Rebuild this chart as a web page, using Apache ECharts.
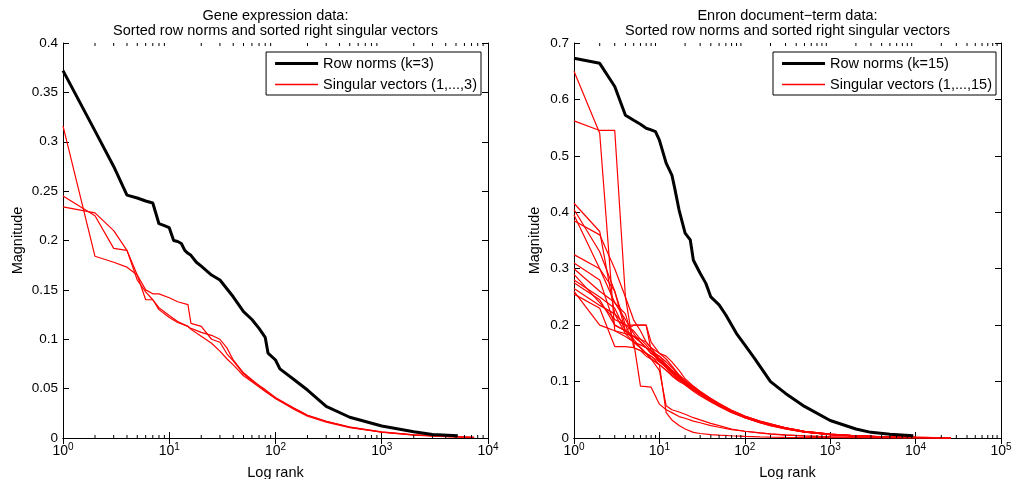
<!DOCTYPE html>
<html>
<head>
<meta charset="utf-8">
<title>Sorted row norms and sorted right singular vectors</title>
<script src="https://cdn.jsdelivr.net/npm/echarts@6.0.0/dist/echarts.min.js"></script>
<style>
    html, body { margin: 0; padding: 0; background: #fff; }
    #main { width: 1012px; height: 479px; }
</style>
</head>
<body>
<div id="main"></div>
<script>
var FONT = '"Liberation Sans", Arial, Helvetica, sans-serif';

// 左图: Gene expression
var geneTitle = 'Gene expression data:\nSorted row norms and sorted right singular vectors';
var geneNormName = 'Row norms (k=3)';
var geneSvName = 'Singular vectors (1,...,3)';
var geneNormRanks = [1, 2, 3, 4, 5, 6, 7, 8, 9, 10, 11, 12, 13, 14, 15, 16, 18, 20, 25, 30, 40, 50, 60, 70, 80, 85, 100, 110, 150, 200, 300, 500, 1000, 2000, 3000, 5200];
var geneNorms = [0.372, 0.311, 0.275, 0.246, 0.243, 0.240, 0.238, 0.217, 0.215, 0.213, 0.200, 0.199, 0.197, 0.190, 0.187, 0.185, 0.178, 0.174, 0.165, 0.160, 0.143, 0.128, 0.120, 0.111, 0.102, 0.086, 0.079, 0.070, 0.059, 0.0486, 0.032, 0.021, 0.0122, 0.0064, 0.0036, 0.0022];
var geneSvRanks = [1, 2, 3, 4, 5, 6, 7, 8, 10, 12, 15, 16, 20, 25, 30, 35, 40, 50, 60, 80, 100, 150, 200, 300, 500, 1000, 2000, 4000, 7400];
var geneSv1 = [0.316, 0.184, 0.178, 0.173, 0.165, 0.140, 0.140, 0.132, 0.124, 0.118, 0.113, 0.110, 0.103, 0.096, 0.088, 0.080, 0.074, 0.063, 0.057, 0.047, 0.040, 0.029, 0.022, 0.016, 0.0105, 0.0058, 0.0030, 0.0014, 0.0005];
var geneSv2 = [0.245, 0.225, 0.192, 0.190, 0.165, 0.150, 0.146, 0.146, 0.142, 0.138, 0.135, 0.116, 0.113, 0.100, 0.097, 0.085, 0.078, 0.065, 0.058, 0.049, 0.041, 0.030, 0.023, 0.017, 0.011, 0.0060, 0.0032, 0.0015, 0.0006];
var geneSv3 = [0.234, 0.228, 0.210, 0.190, 0.160, 0.148, 0.140, 0.130, 0.122, 0.117, 0.113, 0.111, 0.107, 0.104, 0.100, 0.091, 0.079, 0.066, 0.059, 0.048, 0.040, 0.030, 0.023, 0.017, 0.011, 0.0062, 0.0033, 0.0016, 0.0006];
var geneYTicks = [0, 0.4, 0.05];
var geneXRange = [1, 10000];

// 右图: Enron
var enronTitle = 'Enron document\u2212term data:\nSorted row norms and sorted right singular vectors';
var enronNormName = 'Row norms (k=15)';
var enronSvName = 'Singular vectors (1,...,15)';
var enronNormRanks = [1, 2, 3, 4, 5, 6, 7, 8, 9, 10, 12, 14, 15, 17, 20, 23, 25, 30, 35, 40, 50, 60, 80, 100, 130, 200, 300, 500, 1000, 2000, 3000, 5000, 9400];
var enronNorms = [0.673, 0.664, 0.623, 0.572, 0.563, 0.556, 0.549, 0.546, 0.543, 0.528, 0.487, 0.466, 0.445, 0.404, 0.363, 0.351, 0.315, 0.292, 0.274, 0.250, 0.236, 0.218, 0.185, 0.165, 0.141, 0.100, 0.079, 0.056, 0.031, 0.016, 0.010, 0.0065, 0.004];
var enronSvRanks = [1, 2, 3, 4, 5, 6, 7, 8, 10, 12, 14, 17, 20, 25, 30, 40, 50, 70, 100, 150, 200, 300, 500, 1000, 2000, 5000, 10000, 26000];
var enronSv = [
    [0.650, 0.540, 0.190, 0.180, 0.170, 0.160, 0.150, 0.145, 0.130, 0.120, 0.110, 0.100, 0.095, 0.085, 0.078, 0.066, 0.058, 0.047, 0.037, 0.028, 0.023, 0.017, 0.011, 0.0060, 0.0035, 0.0017, 0.0010, 0.0003],
    [0.562, 0.545, 0.545, 0.250, 0.209, 0.190, 0.170, 0.160, 0.140, 0.125, 0.117, 0.105, 0.097, 0.088, 0.080, 0.068, 0.060, 0.048, 0.038, 0.029, 0.024, 0.018, 0.012, 0.0070, 0.0040, 0.0018, 0.0010, 0.0003],
    [0.416, 0.366, 0.220, 0.200, 0.190, 0.175, 0.165, 0.155, 0.140, 0.130, 0.120, 0.108, 0.100, 0.090, 0.082, 0.070, 0.061, 0.049, 0.039, 0.030, 0.025, 0.018, 0.012, 0.0070, 0.0040, 0.0019, 0.0010, 0.0003],
    [0.405, 0.330, 0.260, 0.200, 0.200, 0.200, 0.200, 0.155, 0.135, 0.128, 0.118, 0.110, 0.100, 0.088, 0.079, 0.066, 0.058, 0.046, 0.036, 0.028, 0.023, 0.017, 0.011, 0.0060, 0.0035, 0.0016, 0.0009, 0.0003],
    [0.395, 0.300, 0.240, 0.210, 0.185, 0.170, 0.160, 0.150, 0.138, 0.125, 0.115, 0.104, 0.096, 0.085, 0.077, 0.065, 0.057, 0.046, 0.037, 0.028, 0.023, 0.017, 0.011, 0.0062, 0.0036, 0.0017, 0.0009, 0.0003],
    [0.385, 0.360, 0.300, 0.250, 0.160, 0.155, 0.145, 0.140, 0.130, 0.120, 0.112, 0.102, 0.094, 0.083, 0.075, 0.064, 0.056, 0.045, 0.036, 0.027, 0.022, 0.016, 0.0105, 0.0060, 0.0034, 0.0016, 0.0009, 0.0003],
    [0.325, 0.300, 0.260, 0.190, 0.180, 0.170, 0.160, 0.150, 0.145, 0.135, 0.125, 0.110, 0.100, 0.090, 0.080, 0.067, 0.059, 0.047, 0.037, 0.028, 0.023, 0.017, 0.011, 0.0063, 0.0036, 0.0017, 0.0010, 0.0003],
    [0.310, 0.280, 0.200, 0.190, 0.200, 0.200, 0.200, 0.170, 0.150, 0.140, 0.128, 0.112, 0.102, 0.090, 0.081, 0.068, 0.060, 0.048, 0.038, 0.029, 0.024, 0.018, 0.012, 0.0068, 0.0038, 0.0018, 0.0010, 0.0003],
    [0.300, 0.260, 0.240, 0.220, 0.170, 0.165, 0.160, 0.155, 0.145, 0.130, 0.120, 0.108, 0.098, 0.087, 0.079, 0.066, 0.058, 0.047, 0.037, 0.028, 0.023, 0.017, 0.011, 0.0062, 0.0035, 0.0016, 0.0009, 0.0003],
    [0.290, 0.240, 0.210, 0.200, 0.170, 0.092, 0.091, 0.090, 0.060, 0.050, 0.045, 0.038, 0.035, 0.030, 0.027, 0.022, 0.019, 0.015, 0.012, 0.009, 0.007, 0.005, 0.0035, 0.0020, 0.0012, 0.0006, 0.0003, 0.0001],
    [0.280, 0.250, 0.230, 0.190, 0.180, 0.175, 0.170, 0.160, 0.150, 0.145, 0.135, 0.120, 0.105, 0.092, 0.083, 0.070, 0.061, 0.049, 0.039, 0.030, 0.025, 0.018, 0.012, 0.0066, 0.0037, 0.0017, 0.0010, 0.0003],
    [0.275, 0.245, 0.200, 0.190, 0.175, 0.160, 0.150, 0.140, 0.120, 0.057, 0.050, 0.046, 0.042, 0.036, 0.032, 0.026, 0.022, 0.016, 0.012, 0.009, 0.0075, 0.0055, 0.0038, 0.0022, 0.0013, 0.0006, 0.0003, 0.0001],
    [0.265, 0.235, 0.220, 0.185, 0.170, 0.160, 0.150, 0.140, 0.130, 0.045, 0.032, 0.022, 0.016, 0.010, 0.008, 0.006, 0.005, 0.004, 0.003, 0.002, 0.0016, 0.0012, 0.0008, 0.0005, 0.0003, 0.0002, 0.0001, 0.00005],
    [0.260, 0.200, 0.190, 0.185, 0.180, 0.170, 0.160, 0.150, 0.140, 0.130, 0.120, 0.110, 0.100, 0.089, 0.080, 0.067, 0.058, 0.047, 0.037, 0.028, 0.023, 0.017, 0.011, 0.0063, 0.0036, 0.0017, 0.0009, 0.0003],
    [0.255, 0.230, 0.162, 0.162, 0.160, 0.155, 0.150, 0.145, 0.135, 0.125, 0.115, 0.105, 0.097, 0.087, 0.078, 0.066, 0.057, 0.046, 0.036, 0.027, 0.022, 0.016, 0.0105, 0.0060, 0.0034, 0.0016, 0.0009, 0.0003]
];
var enronYTicks = [0, 0.7, 0.1];
var enronXRange = [1, 100000];

// 对数轴上的次刻度 2..9 x 10^k
var minorMults = [2, 3, 4, 5, 6, 7, 8, 9];

var grids = [
    {left: 63, top: 43, width: 425, height: 395, outerBoundsMode: 'none'},
    {left: 574, top: 43, width: 427, height: 395, outerBoundsMode: 'none'}
];

// 图例里的线段图标
var thickIcon = 'path://M0,0 L43,0 L43,3 L0,3 Z';
var thinIcon = 'path://M0,0 L43,0 L43,1.3 L0,1.3 Z';

function pairs(xs, ys) {
    return xs.map(function (x, i) { return [x, ys[i]]; });
}

function minorTicks(range) {
    var out = [];
    for (var d = range[0]; d < range[1]; d *= 10) {
        minorMults.forEach(function (m) { out.push([d * m, 0]); });
    }
    return out;
}

function logAxis(gi, range, pos) {
    var bottom = pos === 'bottom';
    return {
        type: 'log',
        logBase: 10,
        gridIndex: gi,
        position: pos,
        min: range[0],
        max: range[1],
        name: bottom ? 'Log rank' : '',
        nameLocation: 'middle',
        nameGap: 27,
        nameTextStyle: {fontFamily: FONT, fontSize: 14.5, color: '#000'},
        axisLine: {show: true, lineStyle: {color: '#000', width: 1}},
        axisTick: {show: true, inside: true, length: 6, lineStyle: {color: '#000'}},
        splitLine: {show: false},
        axisLabel: {
            show: bottom,
            margin: 4,
            showMinLabel: true,
            showMaxLabel: true,
            formatter: function (v) {
                return '{b|10}{s|' + Math.round(Math.log(v) / Math.LN10) + '}';
            },
            rich: {
                b: {fontFamily: FONT, fontSize: 14, color: '#000', lineHeight: 16, verticalAlign: 'bottom'},
                s: {fontFamily: FONT, fontSize: 10, color: '#000', lineHeight: 10, verticalAlign: 'top'}
            }
        }
    };
}

function valAxis(gi, ticks, pos, gap) {
    var left = pos === 'left';
    return {
        type: 'value',
        gridIndex: gi,
        position: pos,
        min: ticks[0],
        max: ticks[1],
        interval: ticks[2],
        name: left ? 'Magnitude' : '',
        nameLocation: 'middle',
        nameGap: gap,
        nameTextStyle: {fontFamily: FONT, fontSize: 14.5, color: '#000'},
        axisLine: {show: true, lineStyle: {color: '#000', width: 1}},
        axisTick: {show: true, inside: true, length: 6, lineStyle: {color: '#000'}},
        splitLine: {show: false},
        axisLabel: {show: left, margin: 5, fontFamily: FONT, fontSize: 13.5, color: '#000'}
    };
}

function lineSeries(name, data, xi, yi, color, width, z) {
    return {
        type: 'line',
        name: name,
        xAxisIndex: xi,
        yAxisIndex: yi,
        data: data,
        symbol: 'none',
        clip: true,
        z: z,
        lineStyle: {color: color, width: width},
        itemStyle: {color: color}
    };
}

function minorSeries(range, xi, yi) {
    return {
        type: 'custom',
        xAxisIndex: xi,
        yAxisIndex: yi,
        silent: true,
        z: 5,
        data: minorTicks(range),
        renderItem: function (params, api) {
            var x = api.coord([api.value(0), 0])[0];
            var cs = params.coordSys;
            var yb = cs.y + cs.height;
            return {
                type: 'group',
                children: [
                    {type: 'line', shape: {x1: x, y1: yb, x2: x, y2: yb - 3}, style: {stroke: '#000', lineWidth: 1}},
                    {type: 'line', shape: {x1: x, y1: cs.y, x2: x, y2: cs.y + 3}, style: {stroke: '#000', lineWidth: 1}}
                ]
            };
        }
    };
}

var series = [];
[geneSv1, geneSv2, geneSv3].forEach(function (sv) {
    series.push(lineSeries(geneSvName, pairs(geneSvRanks, sv), 0, 0, '#ff0000', 1.2, 2));
});
series.push(lineSeries(geneNormName, pairs(geneNormRanks, geneNorms), 0, 0, '#000', 3, 3));
enronSv.forEach(function (sv) {
    series.push(lineSeries(enronSvName, pairs(enronSvRanks, sv), 2, 2, '#ff0000', 1.2, 2));
});
series.push(lineSeries(enronNormName, pairs(enronNormRanks, enronNorms), 2, 2, '#000', 3, 3));
series.push(minorSeries(geneXRange, 0, 0));
series.push(minorSeries(enronXRange, 2, 2));

function legendBox(names, right) {
    return {
        data: [
            {name: names[0], icon: thickIcon},
            {name: names[1], icon: thinIcon}
        ],
        orient: 'vertical',
        right: right,
        top: 52,
        padding: [4, 4, 3, 9],
        itemGap: 6,
        itemWidth: 43,
        itemHeight: 14,
        itemTextGap: 7,
        borderColor: '#000',
        borderWidth: 1,
        borderRadius: 0,
        backgroundColor: '#fff',
        selectedMode: false,
        textStyle: {fontFamily: FONT, fontSize: 14.5, color: '#000'}
    };
}

var myChart = echarts.init(document.getElementById('main'));
var option = {
    animation: false,
    backgroundColor: '#fff',
    title: [
        {text: geneTitle, left: 275.5, top: 8, padding: 0, textAlign: 'center',
            textStyle: {fontFamily: FONT, fontSize: 14.5, fontWeight: 'normal', color: '#000', lineHeight: 15}},
        {text: enronTitle, left: 787.5, top: 8, padding: 0, textAlign: 'center',
            textStyle: {fontFamily: FONT, fontSize: 14.5, fontWeight: 'normal', color: '#000', lineHeight: 15}}
    ],
    legend: [
        legendBox([geneNormName, geneSvName], 531),
        legendBox([enronNormName, enronSvName], 16)
    ],
    grid: grids,
    xAxis: [
        logAxis(0, geneXRange, 'bottom'),
        logAxis(0, geneXRange, 'top'),
        logAxis(1, enronXRange, 'bottom'),
        logAxis(1, enronXRange, 'top')
    ],
    yAxis: [
        valAxis(0, geneYTicks, 'left', 38),
        valAxis(0, geneYTicks, 'right', 0),
        valAxis(1, enronYTicks, 'left', 32),
        valAxis(1, enronYTicks, 'right', 0)
    ],
    series: series
};
myChart.setOption(option, true);
</script>
</body>
</html>
